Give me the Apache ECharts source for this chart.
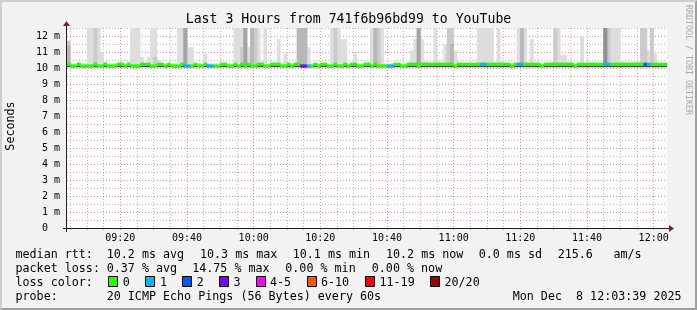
<!DOCTYPE html>
<html><head><meta charset="utf-8">
<script src="https://cdn.jsdelivr.net/npm/echarts@6/dist/echarts.min.js"></script>
<style>html,body{margin:0;padding:0;background:#f2f2f2}#c{width:697px;height:310px}</style>
</head><body><div id="c"></div>
<script>
// time axis in minutes since midnight: 09:04 .. 12:04
const T0 = 544, T1 = 724;
const minorTicks = [545,550,555,565,570,575,585,590,595,605,610,615,625,630,635,645,650,655,665,670,675,685,690,695,705,710,715];
const majorTicks = [560,580,600,620,640,660,680,700,720];

// median rtt per minute column (ms)
const medianMs = [
10.23,10.12,10.12,10.23,10.12,10.12,10.12,10.12,10.23,10.12,10.12,10.23,10.12,10.12,10.12,10.23,10.23,10.12,10.23,10.12,
10.12,10.12,10.23,10.23,10.23,10.12,10.12,10.23,10.23,10.12,10.23,10.12,10.12,10.12,10.23,10.12,10.12,10.12,10.23,10.12,
10.12,10.23,10.12,10.12,10.12,10.12,10.23,10.23,10.12,10.12,10.23,10.12,10.23,10.12,10.23,10.12,10.12,10.23,10.23,10.12,
10.12,10.23,10.23,10.23,10.12,10.12,10.23,10.12,10.23,10.23,10.12,10.12,10.12,10.12,10.23,10.12,10.23,10.23,10.12,10.12,
10.23,10.12,10.12,10.23,10.12,10.23,10.23,10.12,10.12,10.23,10.23,10.12,10.23,10.12,10.12,10.12,10.12,10.12,10.23,10.23,
10.12,10.12,10.23,10.23,10.23,10.12,10.23,10.23,10.23,10.23,10.23,10.23,10.23,10.23,10.23,10.23,10.12,10.23,10.23,10.23,
10.23,10.23,10.23,10.23,10.23,10.23,10.23,10.23,10.23,10.23,10.23,10.23,10.23,10.12,10.23,10.23,10.23,10.23,10.23,10.23,
10.23,10.23,10.12,10.23,10.23,10.23,10.23,10.23,10.23,10.23,10.23,10.23,10.12,10.23,10.23,10.23,10.23,10.23,10.23,10.23,
10.23,10.23,10.23,10.23,10.23,10.23,10.23,10.23,10.23,10.23,10.23,10.23,10.23,10.23,10.23,10.23,10.23,10.23,10.23,10.23
];
// lowest ping per column (ms): bottom of the dark smoke core
const coreLowMs = [
10.05,10.05,10.05,10.05,10.05,10.05,10.05,10.05,10.05,10.05,10.05,10.05,10.05,10.05,10.05,10.05,10.05,10.05,10.05,10.05,
10.05,10.05,10.05,10.05,10.05,10.05,10.05,10.05,10.05,10.05,10.05,10.05,10.05,10.05,10.05,10.05,10.05,10.05,10.05,10.05,
10.05,10.05,10.05,10.05,10.05,10.05,10.05,10.05,10.05,10.05,10.05,10.05,10.05,10.05,10.05,10.05,10.05,10.05,10.05,10.05,
10.05,10.05,10.05,10.05,10.05,10.05,10.05,10.05,10.05,10.05,10.05,10.05,10.05,10.05,10.05,10.05,10.05,10.05,10.05,10.05,
10.05,10.05,10.05,10.05,10.05,10.05,10.05,10.05,10.05,10.05,10.05,10.05,10.05,10.05,10.05,10.05,10.05,10.05,10.05,10.05,
10.05,10.05,10.05,10.05,10.05,10.05,10.05,10.05,10.05,10.05,10.05,10.05,10.05,10.05,10.05,10.05,10.05,10.05,10.05,10.05,
10.05,10.05,10.05,10.05,10.05,10.05,10.05,10.05,10.05,10.05,10.05,10.05,10.05,10.05,10.05,10.05,10.05,10.05,10.05,10.05,
10.05,10.05,10.05,10.05,10.05,10.05,10.05,10.05,10.05,10.05,10.05,10.05,10.05,10.05,10.05,10.05,10.05,10.05,10.05,10.05,
10.05,10.05,10.05,10.05,10.05,10.05,10.05,10.05,10.05,10.05,10.05,10.05,10.05,10.05,10.05,10.05,10.05,10.05,10.05,10.05
];
// lost pings (of 20) per minute column
const lossCount = [
0,0,0,0,0,0,0,0,0,0,0,0,0,0,0,0,0,0,0,0,
0,0,0,0,0,0,0,0,0,0,0,0,0,0,0,1,1,0,0,0,
0,0,1,1,0,0,0,0,0,0,0,0,0,0,0,0,0,0,0,0,
0,0,0,0,0,0,0,0,0,0,3,3,1,0,0,0,0,0,0,0,
0,0,0,0,0,0,0,0,0,0,0,0,0,0,0,0,1,1,0,0,
0,0,0,0,0,0,0,0,0,0,0,0,0,0,0,0,0,0,0,0,
0,0,0,0,1,1,0,0,0,0,0,0,0,0,0,1,1,0,0,0,
0,0,0,0,0,0,0,0,0,0,0,0,0,0,0,0,0,0,0,0,
0,1,1,0,0,0,0,0,0,0,0,0,0,2,1,0,0,0,0,0
];
// top of the light smoke band per column (ms)
const smokeLowTop = [
10.35,10.3,10.3,10.35,10.35,10.3,10.4,10.4,10.4,10.4,10.35,10.4,10.3,10.3,10.3,10.35,10.35,10.3,10.4,10.3,
10.35,10.35,10.4,10.3,10.4,10.4,10.4,10.4,10.3,10.3,10.3,10.3,10.3,10.4,10.4,10.4,10.4,10.4,10.3,10.3,
10.3,10.4,10.3,10.3,10.3,10.3,10.35,10.35,10.3,10.3,10.4,10.4,10.4,10.4,10.4,10.4,10.4,10.4,10.4,10.3,
10.3,10.35,10.35,10.35,10.35,10.35,10.35,10.3,10.3,10.4,10.4,10.4,10.4,10.3,10.3,10.3,10.3,10.3,10.3,10.3,
10.4,10.4,10.4,10.4,10.3,10.3,10.35,10.3,10.3,10.35,10.35,10.4,10.4,10.4,10.35,10.3,10.3,10.3,10.3,10.3,
10.3,10.35,10.35,10.35,10.4,10.4,10.4,10.4,10.4,10.3,10.35,10.35,10.35,10.4,10.4,10.4,10.4,10.4,10.3,10.3,
10.3,10.3,10.3,10.4,10.4,10.4,10.4,10.4,10.35,10.35,10.35,10.3,10.3,10.35,10.35,10.4,10.4,10.4,10.3,10.3,
10.3,10.3,10.3,10.3,10.35,10.4,10.4,10.4,10.4,10.35,10.35,10.35,10.35,10.3,10.35,10.3,10.35,10.35,10.35,10.3,
10.3,10.4,10.4,10.4,10.4,10.4,10.4,10.4,10.35,10.35,10.4,10.4,10.4,10.4,10.4,10.4,10.4,10.3,10.3,10.3
];
// tall smoke columns: [column, top of layer1 (lightest), layer2, layer3, layer4, layer5]
const smokeSpikes = [
[0,11.7,11.7,11.4],
[6,13],[7,13],[8,13,13],[9,13],[10,11.0],
[19,13],[20,13],[21,13],[22,10.7],[24,10.7],[25,13],[26,13,10.7],[27,10.5],
[33,13],[34,13],[35,13,13,13,13],[36,11.3],[37,11.3],[41,10.9],
[50,13],[51,13],[52,13,11.3],[53,13,13,13,13],[54,11.3],[55,13,13,13],[56,13,13],[57,13],[59,13],
[63,11.8],[65,10.9],[69,13,13,13],[70,13,13,13],[71,13,13,13],[72,11.3],
[79,13],[80,13,13],[81,13],[82,11.8],[83,11.8],[86,10.9],
[91,13],[92,13,13,13],[93,13,13],[94,13],
[103,11.1],[104,11.8],[105,13,13,13,13],[106,11.8],[110,13],[111,10.5],
[113,11.5],[114,13,13],[115,13,13,11.5],[116,11.1],
[123,13],[124,13],[125,13],[126,13],[127,13],[129,13],
[135,13],[136,13,13,13],[137,13],[139,11.8],
[146,13,13],[147,13],[148,10.8],[149,10.8],[154,12],
[161,13,13,13,13,13],[162,13,13],[163,13],[164,13],[165,13],[168,10.4],
[172,13,13],[173,13,13],[174,11.1],[175,13,13],[176,10.9]
];
const smokeColors = ['#dddddd','#cacaca','#b7b7b7','#a4a4a4','#919191'];
const coreColor = '#454545';
const lossLevels = [
  {label:'0', color:'#26ff00'}, {label:'1', color:'#00b8ff'}, {label:'2', color:'#0059ff'},
  {label:'3', color:'#7e00ff'}, {label:'4-5', color:'#ff00ff'}, {label:'6-10', color:'#ff5500'},
  {label:'11-19', color:'#ff0000'}, {label:'20/20', color:'#a10000'}
];
function lossColor(n){
  if(n<=3) return lossLevels[n].color;
  if(n<=5) return lossLevels[4].color;
  if(n<=10) return lossLevels[5].color;
  if(n<=19) return lossLevels[6].color;
  return lossLevels[7].color;
}

const GRID = 'rgba(143,143,143,0.6)';
const MGRID = 'rgba(222,79,79,0.6)';
const MONO = '"DejaVu Sans Mono", monospace';

// build layer data
const layers = smokeColors.map(()=>[]);
for (let k=0;k<medianMs.length;k++){
  layers[0].push([T0+k, medianMs[k], smokeLowTop[k]]);
}
smokeSpikes.forEach(s=>{
  const k=s[0];
  for(let L=1;L<s.length;L++){
    layers[L-1].push([T0+k, medianMs[k], s[L]]);
  }
});
const coreData = medianMs.map((m,k)=>[T0+k, coreLowMs[k], m]);
const bandData = medianMs.map((m,k)=>[T0+k, m, lossCount[k]]);

function rectRender(params, api){
  const x = api.value(0), lo = api.value(1), hi = api.value(2);
  const p0 = api.coord([x, hi]);
  const p1 = api.coord([x+1, lo]);
  return {type:'rect', shape:{x:p0[0]-0.2, y:p0[1], width:p1[0]-p0[0]+0.4, height:p1[1]-p0[1]},
    style:{fill: api.visual('color')}};
}
function bandRender(params, api){
  const x = api.value(0), m = api.value(1), n = api.value(2);
  const p0 = api.coord([x, m+0.105]);
  const p1 = api.coord([x+1, m-0.105]);
  return {type:'rect', shape:{x:p0[0]-0.2, y:p0[1], width:p1[0]-p0[0]+0.4, height:p1[1]-p0[1]},
    style:{fill: lossColor(n)}};
}
function fmtTime(v){
  const h=Math.floor(v/60), mi=Math.round(v%60);
  return String(h).padStart(2,'0')+':'+String(mi).padStart(2,'0');
}

const series = [];
smokeColors.forEach((c,i)=>{
  series.push({type:'custom', name:'smoke'+i, xAxisIndex:0, yAxisIndex:0, renderItem:rectRender,
    itemStyle:{color:c}, data:layers[i], encode:{x:0,y:[1,2]}, clip:true, silent:true, animation:false});
});
series.push({type:'custom', name:'core', xAxisIndex:0, yAxisIndex:0, renderItem:rectRender,
  itemStyle:{color:coreColor}, data:coreData, encode:{x:0,y:[1,2]}, clip:true, silent:true, animation:false});
series.push({type:'custom', name:'median', xAxisIndex:0, yAxisIndex:0, renderItem:bandRender,
  data:bandData, encode:{x:0,y:1}, clip:true, silent:true, animation:false});

// legend texts
const legendRows = [
  {y:254.5, items:[[15.5,'median rtt:'],[106.7,'10.2 ms avg'],[200,'10.3 ms max'],[292.7,'10.1 ms min'],[386,'10.2 ms now'],[478.7,'0.0 ms sd'],[557.7,'215.6'],[613.5,'am/s']]},
  {y:268.7, items:[[15.5,'packet loss:'],[106.7,'0.37 % avg'],[192.2,'14.75 % max'],[285.3,'0.00 % min'],[371.8,'0.00 % now']]},
  {y:283, items:[[15.5,'loss color:']]},
  {y:297, items:[[15.5,'probe:'],[106.7,'20 ICMP Echo Pings (56 Bytes) every 60s'],[512.7,'Mon Dec  8 12:03:39 2025']]}
];
const boxX = [108.5,145.5,182.5,219.5,256.5,307.5,365.5,430.5];
const boxTextX = [122.7,160,196.7,233.5,270,321,379.5,444.5];

const graphic = [];
graphic.push({type:'polygon', shape:{points:[[0,0],[697,0],[695,2],[2,2],[2,308],[0,310]]}, style:{fill:'#cfcfcf'}, silent:true});
graphic.push({type:'polygon', shape:{points:[[697,0],[697,310],[0,310],[2,308],[695,308],[695,2]]}, style:{fill:'#9e9e9e'}, silent:true});
graphic.push({type:'text', x:348.5, y:19.5, style:{text:'Last 3 Hours from 741f6b96bd99 to YouTube', font:'13.2px '+MONO, fill:'#000', align:'center', verticalAlign:'middle'}, silent:true});
graphic.push({type:'text', x:10.5, y:126, rotation:Math.PI/2, style:{text:'Seconds', font:'11.7px '+MONO, fill:'#000', align:'center', verticalAlign:'middle'}, silent:true});
graphic.push({type:'text', x:688, y:60, rotation:-Math.PI/2, style:{text:'RRDTOOL / TOBI OETIKER', font:'8.3px '+MONO, fill:'#a8a8a8', align:'center', verticalAlign:'middle'}, silent:true});
graphic.push({type:'line', shape:{x1:63, y1:228.5, x2:671, y2:228.5}, style:{stroke:'#1f1f1f', lineWidth:1}, silent:true, z:10});
graphic.push({type:'line', shape:{x1:66.5, y1:232, x2:66.5, y2:24}, style:{stroke:'#1f1f1f', lineWidth:1}, silent:true, z:10});
graphic.push({type:'polygon', shape:{points:[[669,225],[669,232],[674,228.5]]}, style:{fill:'#801f1f'}, silent:true, z:10});
graphic.push({type:'polygon', shape:{points:[[63,26],[70,26],[66.5,21]]}, style:{fill:'#801f1f'}, silent:true, z:10});
legendRows.forEach(r=>r.items.forEach(it=>{
  graphic.push({type:'text', x:it[0], y:r.y, style:{text:it[1], font:'11.7px '+MONO, fill:'#000', align:'left', verticalAlign:'middle'}, silent:true});
}));
lossLevels.forEach((l,i)=>{
  graphic.push({type:'rect', shape:{x:boxX[i], y:276.5, width:9, height:10}, style:{fill:l.color, stroke:'#000', lineWidth:1}, silent:true});
  graphic.push({type:'text', x:boxTextX[i], y:283, style:{text:l.label, font:'11.7px '+MONO, fill:'#000', align:'left', verticalAlign:'middle'}, silent:true});
});

const chart = echarts.init(document.getElementById('c'), null, {renderer:'canvas'});
chart.setOption({
  backgroundColor:'#f2f2f2',
  animation:false,
  grid:{left:67, top:28, width:600, height:200, show:true, backgroundColor:'#ffffff', borderWidth:0},
  xAxis:[
    {type:'value', min:T0, max:T1, position:'bottom',
     axisLine:{show:false}, axisLabel:{show:false},
     axisTick:{show:true, customValues:minorTicks, length:2, lineStyle:{color:GRID}},
     splitLine:{show:true, lineStyle:{color:GRID, type:[1,2], width:1}}},
    {type:'value', min:T0, max:T1, position:'bottom',
     axisLine:{show:false},
     axisTick:{show:true, customValues:majorTicks, length:2, lineStyle:{color:MGRID}},
     axisLabel:{show:true, customValues:majorTicks, formatter:fmtTime, color:'#000', fontFamily:MONO, fontSize:10, margin:5},
     splitLine:{show:true, lineStyle:{color:MGRID, type:[1,2], width:1}}}
  ],
  yAxis:[
    {type:'value', min:0, max:12.5, interval:0.5,
     axisLine:{show:false}, axisTick:{show:false},
     axisLabel:{color:'#000', fontFamily:MONO, fontSize:10, margin:7,
       formatter:function(v){ if(Math.abs(v-Math.round(v))>1e-6) return ''; return v===0?'0  ':(v+' m'); }},
     splitLine:{show:true, lineStyle:{color:[MGRID, GRID], type:[1,2], width:1}}}
  ],
  series:series,
  graphic:graphic
});
</script>
</body></html>
